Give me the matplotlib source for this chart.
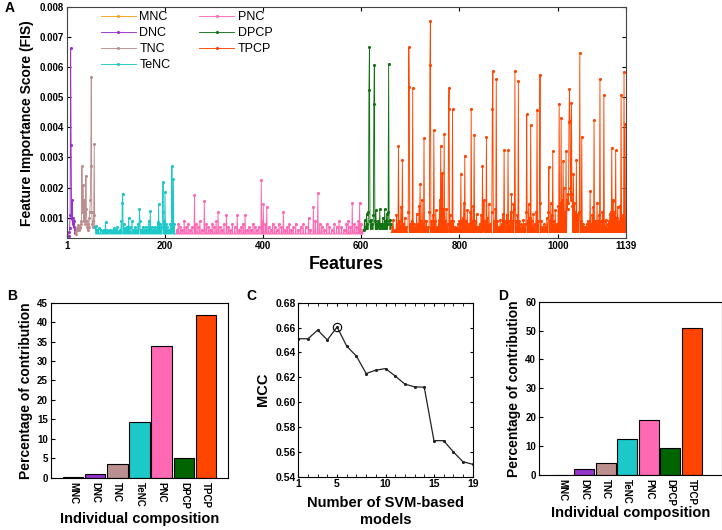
import numpy as np
import matplotlib
matplotlib.use("Agg")
import matplotlib.pyplot as plt

plt.rcParams['font.family'] = ['Liberation Sans', 'DejaVu Sans']

# ---- data ----
groups = ["MNC", "DNC", "TNC", "TeNC", "PNC", "DPCP", "TPCP"]
colors = ["#F7A21B", "#9933CC", "#BC8F8F", "#1CC8C8", "#FF69B4", "#137313", "#FF4500"]
grp_start = [1, 5, 19, 59, 222, 605, 661]
grp_end = [4, 18, 58, 221, 604, 660, 1139]
grp_base = [0.00036, 0.00045, 0.00060, 0.00045, 0.00045, 0.00060, 0.00050]

mnc_x = [1, 2, 3, 4]
mnc_y = [0.00035, 0.00040, 0.00036, 0.00038]

dnc_x = [5, 6, 7, 8, 9, 10, 11, 12, 13, 14, 15, 16, 17, 18]
dnc_y = [0.00040, 0.00052, 0.00066, 0.00110, 0.00663, 0.00341, 0.00095,
         0.00158, 0.00080, 0.00100, 0.00070, 0.00090, 0.00060, 0.00048]

tnc_x = [19, 20, 21, 22, 23, 24, 25, 26, 27, 28, 29, 30, 31, 32, 33, 34, 35, 36, 37, 38,
         39, 40, 41, 42, 43, 44, 45, 46, 47, 48, 49, 50, 51, 52, 53, 54, 55, 56, 57, 58]
tnc_y = [0.00045, 0.00055, 0.0006, 0.00065, 0.0007, 0.0006, 0.00075, 0.00068, 0.0006, 0.0007,
         0.00065, 0.0008, 0.0009, 0.00271, 0.0012, 0.0021, 0.0014, 0.0009, 0.0016, 0.0011,
         0.0008, 0.00239, 0.0013, 0.0009, 0.0007, 0.0006, 0.0008, 0.0007, 0.0010, 0.0012,
         0.00158, 0.00271, 0.00567, 0.0012, 0.0008, 0.0007, 0.0009, 0.0011, 0.00344, 0.0007]

tenc_x = [59, 61, 63, 66, 70, 74, 77, 80, 83, 86, 90, 93, 96, 98, 101, 104, 107, 110, 112, 114,
          115, 117, 120, 123, 125, 127, 130, 134, 137, 140, 143, 146, 149, 150, 153, 156, 159,
          162, 165, 168, 171, 174, 177, 180, 183, 186, 188, 190, 193, 196, 197, 199, 201, 203,
          206, 209, 212, 215, 216, 218, 220]
tenc_y = [0.0007, 0.00072, 0.0006, 0.00065, 0.0006, 0.00055, 0.0006, 0.00085, 0.0006, 0.00055,
          0.0006, 0.00055, 0.0006, 0.00066, 0.0006, 0.0007, 0.00055, 0.0006, 0.0009, 0.0015,
          0.0018, 0.0008, 0.00065, 0.0007, 0.0006, 0.0010, 0.0007, 0.00089, 0.0006, 0.0007,
          0.0006, 0.0008, 0.00128, 0.0009, 0.0006, 0.0007, 0.0006, 0.0007, 0.0006, 0.0009,
          0.00122, 0.0007, 0.0006, 0.0007, 0.0006, 0.00085, 0.00144, 0.0008, 0.0007, 0.0012,
          0.00217, 0.0009, 0.00186, 0.0008, 0.0007, 0.0006, 0.0008, 0.00271, 0.0012, 0.0023, 0.0008]

pnc_x = [225, 228, 232, 236, 240, 244, 248, 252, 256, 261, 264, 268, 272, 276, 281, 285, 289,
         293, 297, 301, 305, 309, 313, 317, 321, 326, 330, 334, 338, 343, 348, 352, 356, 360,
         364, 368, 372, 376, 380, 384, 388, 392, 397, 399, 401, 405, 408, 412, 416, 420, 424,
         428, 433, 438, 442, 446, 450, 454, 458, 462, 467, 472, 477, 482, 487, 493, 497, 503,
         507, 512, 516, 520, 525, 530, 535, 540, 545, 550, 555, 560, 565, 570, 574, 578, 582,
         586, 590, 594, 597, 600, 603]
pnc_y = [0.0006, 0.0008, 0.0007, 0.0006, 0.0009, 0.0007, 0.0008, 0.0006, 0.0007, 0.00175,
         0.0008, 0.0007, 0.0009, 0.0006, 0.00156, 0.0008, 0.0007, 0.0006, 0.0008, 0.0007,
         0.0009, 0.00117, 0.0007, 0.0006, 0.0008, 0.0011, 0.0007, 0.0006, 0.0008, 0.0007,
         0.0011, 0.0006, 0.0007, 0.0008, 0.0011, 0.0006, 0.0007, 0.0006, 0.0008, 0.0007,
         0.0006, 0.0007, 0.00224, 0.0009, 0.00144, 0.0008, 0.00134, 0.0007, 0.0006, 0.0008,
         0.0007, 0.0006, 0.0008, 0.0007, 0.00117, 0.0006, 0.0007, 0.0008, 0.0006, 0.0007,
         0.0008, 0.0006, 0.0007, 0.0008, 0.0007, 0.00097, 0.0006, 0.00136, 0.0009, 0.00182,
         0.0008, 0.0007, 0.0006, 0.0008, 0.0007, 0.0006, 0.0008, 0.0007, 0.0009, 0.0007,
         0.0006, 0.0008, 0.0009, 0.0007, 0.0015, 0.0008, 0.0007, 0.0009, 0.0015, 0.0008, 0.0006]

dpcp_x = [605, 607, 609, 611, 613, 615, 616, 617, 618, 620, 621, 623, 625, 626, 627, 628, 630,
          632, 635, 636, 638, 640, 642, 644, 646, 648, 650, 652, 654, 655, 656, 657, 658, 660]
dpcp_y = [0.0006, 0.00091, 0.0007, 0.00113, 0.0008, 0.0012, 0.00524, 0.00669, 0.0009, 0.0007,
          0.00091, 0.0008, 0.0011, 0.00477, 0.00607, 0.0009, 0.00124, 0.0008, 0.00087, 0.0007,
          0.00127, 0.0008, 0.0007, 0.0010, 0.0008, 0.00127, 0.0009, 0.00113, 0.0008, 0.0012,
          0.00612, 0.0009, 0.00091, 0.0008]

tpcp_x = [663, 665, 668, 672, 674, 676, 678, 681, 684, 686, 689, 692, 696, 697, 698, 700, 703,
          705, 707, 710, 713, 716, 718, 720, 722, 724, 726, 728, 730, 733, 736, 739, 740, 741,
          743, 746, 748, 750, 752, 755, 758, 760, 762, 764, 765, 767, 769, 771, 773, 776, 778,
          779, 781, 783, 786, 788, 791, 794, 797, 800, 803, 805, 807, 809, 811, 813, 816, 819,
          822, 824, 826, 828, 830, 832, 835, 838, 841, 844, 847, 849, 850, 853, 855, 857, 860,
          863, 866, 867, 868, 870, 873, 875, 877, 880, 883, 886, 888, 891, 893, 896, 899, 901,
          904, 906, 908, 910, 912, 913, 915, 918, 920, 922, 925, 928, 930, 933, 936, 937, 939,
          941, 943, 945, 947, 950, 953, 956, 958, 960, 963, 964, 966, 969, 972, 975, 978, 981,
          982, 984, 986, 988, 990, 992, 995, 998, 1001, 1003, 1005, 1007, 1009, 1011, 1013,
          1015, 1017, 1019, 1020, 1021, 1022, 1023, 1024, 1025, 1026, 1027, 1028, 1029, 1030,
          1032, 1034, 1036, 1038, 1040, 1042, 1044, 1045, 1047, 1049, 1051, 1053, 1056, 1059,
          1062, 1064, 1066, 1068, 1070, 1072, 1074, 1076, 1078, 1080, 1082, 1084, 1086, 1088,
          1091, 1094, 1096, 1099, 1102, 1104, 1106, 1108, 1110, 1112, 1113, 1115, 1118, 1120,
          1122, 1125, 1127, 1129, 1131, 1133, 1135, 1137, 1139]
tpcp_y = [0.0007, 0.00091, 0.0006, 0.00108, 0.0008, 0.00339, 0.0009, 0.00136, 0.00291, 0.0008,
          0.00097, 0.0007, 0.0012, 0.00667, 0.00536, 0.0008, 0.0009, 0.00531, 0.0008, 0.0007,
          0.00113, 0.0008, 0.0014, 0.00212, 0.0009, 0.00158, 0.0008, 0.00364, 0.0009, 0.00089,
          0.0007, 0.0012, 0.00608, 0.00754, 0.0009, 0.0011, 0.00391, 0.0009, 0.00124, 0.0007,
          0.00091, 0.0016, 0.00339, 0.0012, 0.00247, 0.0013, 0.00378, 0.0009, 0.0013, 0.0008,
          0.0046, 0.00532, 0.0011, 0.0009, 0.00461, 0.0009, 0.0007, 0.00066, 0.0008, 0.0009,
          0.00244, 0.0009, 0.0010, 0.0015, 0.00306, 0.0009, 0.00124, 0.0008, 0.0012, 0.00463,
          0.0009, 0.0014, 0.00376, 0.0009, 0.00113, 0.0007, 0.0008, 0.0011, 0.00272, 0.0009,
          0.00158, 0.0009, 0.00368, 0.0010, 0.00144, 0.0008, 0.0012, 0.0046, 0.00587, 0.0009,
          0.0013, 0.0056, 0.0009, 0.0007, 0.00091, 0.0008, 0.00113, 0.00324, 0.0009, 0.0011,
          0.00324, 0.0009, 0.0012, 0.00178, 0.0009, 0.00144, 0.0013, 0.00589, 0.0009, 0.0011,
          0.00554, 0.0009, 0.0008, 0.0007, 0.00091, 0.0008, 0.0012, 0.00444, 0.0009, 0.00144,
          0.0010, 0.00408, 0.0009, 0.00113, 0.0008, 0.0012, 0.00457, 0.0009, 0.0015, 0.00576,
          0.0009, 0.0007, 0.0008, 0.0007, 0.0010, 0.0012, 0.00268, 0.0009, 0.00147, 0.0011,
          0.00322, 0.0009, 0.00124, 0.0008, 0.0014, 0.00477, 0.0015, 0.0043, 0.0016, 0.00287,
          0.0020, 0.0012, 0.00322, 0.0016, 0.0013, 0.0018, 0.0015, 0.00419, 0.00527, 0.0042,
          0.0020, 0.0016, 0.00482, 0.0018, 0.0014, 0.00244, 0.0015, 0.0012, 0.00291, 0.0011,
          0.00113, 0.0012, 0.00649, 0.0009, 0.00369, 0.0008, 0.0007, 0.00069, 0.0008, 0.0009,
          0.0009, 0.00187, 0.0008, 0.0011, 0.00136, 0.00424, 0.0009, 0.0008, 0.00147, 0.0009,
          0.0011, 0.0056, 0.0009, 0.0012, 0.00507, 0.0009, 0.00091, 0.0008, 0.0009, 0.00113,
          0.0012, 0.00333, 0.0016, 0.00156, 0.0012, 0.00324, 0.0010, 0.00136, 0.0009, 0.0014,
          0.00509, 0.0010, 0.0011, 0.00586, 0.0041, 0.0009]

grp_x = [mnc_x, dnc_x, tnc_x, tenc_x, pnc_x, dpcp_x, tpcp_x]
grp_y = [mnc_y, dnc_y, tnc_y, tenc_y, pnc_y, dpcp_y, tpcp_y]

# panel B / D: contribution (%)
contrib_b = [0.3, 1.0, 3.6, 14.3, 33.8, 5.1, 41.9]
contrib_d = [0.0, 2.0, 4.2, 12.3, 19.1, 9.4, 50.9]
bar_colors = ["#F7A21B", "#9933CC", "#BC8F8F", "#1CC8C8", "#FF69B4", "#006400", "#FF4500"]

# panel C: MCC vs number of models
n_models = list(range(1, 20))
mcc = [0.651, 0.651, 0.658, 0.650, 0.6605, 0.645, 0.637, 0.623, 0.6257, 0.627,
       0.621, 0.6145, 0.6123, 0.612, 0.569, 0.569, 0.560, 0.552, 0.550]

fig = plt.figure(figsize=(7.22, 5.30), dpi=100)
W, H = 722.0, 530.0


def box(l, t, r, b):
    return [l / W, 1 - b / H, (r - l) / W, (b - t) / H]


# ---- panel A ----
axA = fig.add_axes(box(66.7, 7.3, 626, 238))
for name, col, s, e, base, gx, gy in zip(groups, colors, grp_start, grp_end, grp_base, grp_x, grp_y):
    xs = np.arange(s, e + 1)
    ys = np.full(len(xs), base)
    idx = np.array(gx) - s
    ys[idx] = gy
    axA.plot(xs, ys, color=col, lw=0.65, marker='.', ms=2.5,
             markevery=list(idx), label=name)
axA.set_xlim(1, 1139)
axA.set_ylim(0.00032, 0.008)
axA.set_xticks([1, 200, 400, 600, 800, 1000, 1139])
axA.set_yticks([0.001, 0.002, 0.003, 0.004, 0.005, 0.006, 0.007, 0.008])
axA.set_yticklabels(["0.001", "0.002", "0.003", "0.004", "0.005", "0.006", "0.007", "0.008"])
axA.tick_params(direction='in', top=True, right=True, length=3, width=0.8,
                labelsize=7, pad=2)
for lab in axA.get_xticklabels() + axA.get_yticklabels():
    lab.set_fontweight('bold')
axA.set_xlabel("Features", fontsize=13, fontweight='bold', labelpad=4)
axA.set_ylabel("Feature Importance Score (FIS)", fontsize=10, fontweight='bold', labelpad=4)
axA.legend(ncol=2, loc='upper left', bbox_to_anchor=(0.045, 1.02), frameon=False,
           fontsize=9, handlelength=2.8, handletextpad=0.3, labelspacing=0.32,
           columnspacing=2.3, borderpad=0.2)
for sp in axA.spines.values():
    sp.set_color('#444444')

# ---- panel B ----
axB = fig.add_axes(box(50.7, 302.7, 228.3, 477.7))
pos = np.arange(1, len(groups) + 1)
axB.bar(pos, contrib_b, width=0.92, color=bar_colors, edgecolor='black', linewidth=0.8)
axB.set_xlim(0, 8)
axB.set_ylim(0, 45)
axB.set_yticks(range(0, 46, 5))
axB.set_xticks(pos)
axB.set_xticklabels(groups, rotation=270)
axB.tick_params(axis='y', direction='in', length=3, labelsize=7, pad=2)
axB.tick_params(axis='x', length=0, labelsize=7, pad=3)
for lab in axB.get_xticklabels() + axB.get_yticklabels():
    lab.set_fontweight('bold')
axB.set_xlabel("Individual composition", fontsize=10.5, fontweight='bold', labelpad=2)
axB.set_ylabel("Percentage of contribution", fontsize=10, fontweight='bold', labelpad=3)

# ---- panel C ----
axC = fig.add_axes(box(298.3, 302.7, 472.7, 476.7))
axC.plot(n_models, mcc, color='#222222', lw=0.9, marker='.', ms=2.5)
axC.plot(n_models[4], mcc[4], marker='o', ms=6, mfc='none', mec='black', mew=0.8)
axC.set_xlim(1, 19)
axC.set_ylim(0.54, 0.68)
axC.set_xticks([1, 5, 10, 15, 19])
axC.set_xticks(range(1, 20), minor=True)
axC.set_yticks(np.arange(0.54, 0.6801, 0.02))
axC.set_yticklabels(["0.54", "0.56", "0.58", "0.60", "0.62", "0.64", "0.66", "0.68"])
axC.tick_params(which='both', direction='in', top=True, right=True, length=2.5,
                labelsize=7.5, pad=2)
for lab in axC.get_xticklabels() + axC.get_yticklabels():
    lab.set_fontweight('bold')
axC.set_xlabel("Number of SVM-based\nmodels", fontsize=10.5, fontweight='bold', labelpad=5)
axC.set_ylabel("MCC", fontsize=10.5, fontweight='bold', labelpad=4)

# ---- panel D ----
axD = fig.add_axes(box(539, 301.7, 721.5, 474.7))
axD.bar(pos, contrib_d, width=0.93, color=bar_colors, edgecolor='black', linewidth=0.8)
axD.set_xlim(-0.1, 8.37)
axD.set_ylim(0, 60)
axD.set_yticks(range(0, 61, 10))
axD.set_xticks(pos)
axD.set_xticklabels(groups, rotation=270)
axD.tick_params(axis='y', direction='in', length=3, labelsize=7, pad=2)
axD.tick_params(axis='x', length=0, labelsize=7, pad=3)
for lab in axD.get_xticklabels() + axD.get_yticklabels():
    lab.set_fontweight('bold')
axD.set_xlabel("Individual composition", fontsize=10.5, fontweight='bold', labelpad=0)
axD.set_ylabel("Percentage of contribution", fontsize=10, fontweight='bold', labelpad=3)

# panel letters
for letter, x, y in [("A", 5, 8), ("B", 7, 296), ("C", 246, 296), ("D", 498, 296)]:
    fig.text(x / W, 1 - y / H, letter, fontsize=10, fontweight='bold', va='center', ha='left')

fig.savefig("out.png", dpi=100)
